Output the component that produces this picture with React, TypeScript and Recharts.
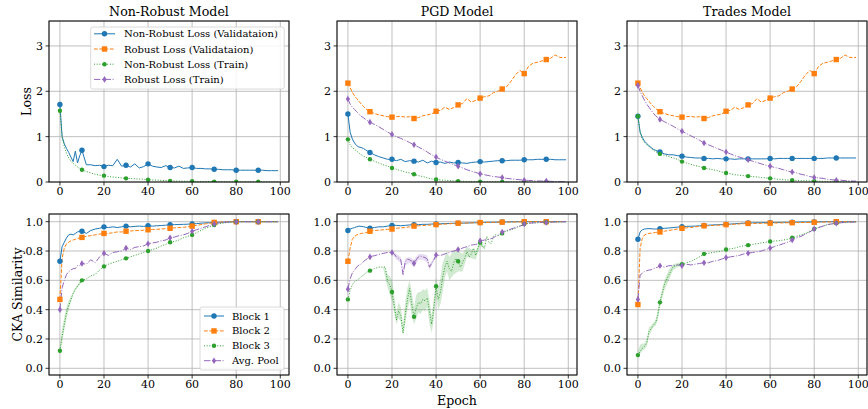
import React from 'react';
import { ComposedChart, Line, Area, XAxis, YAxis, CartesianGrid } from 'recharts';

// ---------- categories / labels ----------
const TITLES = ['Non-Robust Model', 'PGD Model', 'Trades Model'];
const LOSS_LABELS = ['Non-Robust Loss (Validataion)', 'Robust Loss (Validataion)', 'Non-Robust Loss (Train)', 'Robust Loss (Train)'];
const CKA_LABELS = ['Block 1', 'Block 2', 'Block 3', 'Avg. Pool'];
const X_TICKS = [0, 20, 40, 60, 80, 100];
const LOSS_TICKS = [0, 1, 2, 3];
const CKA_TICKS = [0, 0.2, 0.4, 0.6, 0.8, 1.0];

// ---------- epochs ----------
const EPOCHS = [0, 1, 2, 3, 4, 5, 6, 7, 8, 9, 10,
  12, 14, 16, 18, 20, 22, 24, 26, 28, 30,
  32, 34, 36, 38, 40, 42, 44, 46, 48, 50,
  52, 54, 56, 58, 60, 62, 64, 66, 68, 70,
  72, 74, 76, 78, 80, 82, 84, 86, 88, 90,
  92, 94, 96, 98, 99];
const EPOCHS_FINE = [0, 1, 2, 3, 4, 5, 6, 7, 8, 9, 10, 11, 12, 13, 14, 15, 16, 17, 18, 19,
  20, 21, 22, 23, 24, 25, 26, 27, 28, 29, 30, 31, 32, 33, 34, 35, 36, 37, 38, 39,
  40, 41, 42, 43, 44, 45, 46, 47, 48, 49, 50, 51, 52, 53, 54, 55, 56, 57, 58, 59,
  60, 61, 62, 63, 64, 65, 66, 67, 68, 69, 70, 71, 72, 73, 74, 75, 76, 77, 78, 79,
  80, 81, 82, 83, 84, 85, 86, 87, 88, 89, 90, 91, 92, 93, 94, 95, 96, 97, 98, 99];

// ---------- Non-Robust model: loss ----------
const NR_LOSS_NRVAL = [1.71, 1.0, 0.84, 0.74, 0.65, 0.55, 0.45, 0.68, 0.42, 0.58, 0.70,
  0.38, 0.38, 0.36, 0.37, 0.34, 0.37, 0.36, 0.50, 0.35, 0.37,
  0.33, 0.40, 0.31, 0.34, 0.40, 0.35, 0.33, 0.32, 0.36, 0.32,
  0.31, 0.35, 0.30, 0.31, 0.32, 0.30, 0.30, 0.29, 0.29, 0.28,
  0.28, 0.27, 0.27, 0.27, 0.26, 0.26, 0.26, 0.26, 0.26, 0.26,
  0.26, 0.25, 0.25, 0.25, 0.25];
const NR_LOSS_NRTRAIN = [1.57, 1.0, 0.78, 0.63, 0.53, 0.46, 0.41, 0.37, 0.33, 0.30, 0.27,
  0.23, 0.20, 0.17, 0.15, 0.14, 0.12, 0.11, 0.10, 0.09, 0.08,
  0.075, 0.07, 0.065, 0.06, 0.05, 0.045, 0.04, 0.035, 0.03, 0.025,
  0.022, 0.02, 0.018, 0.016, 0.015, 0.013, 0.012, 0.011, 0.01, 0.009,
  0.008, 0.007, 0.007, 0.006, 0.006, 0.005, 0.005, 0.005, 0.004, 0.004,
  0.004, 0.003, 0.003, 0.003, 0.003];

// ---------- PGD model: loss ----------
const ADV_LOSS_RVAL = [2.18, 2.08, 1.98, 1.90, 1.84, 1.78, 1.72, 1.67, 1.62, 1.58, 1.55,
  1.51, 1.48, 1.46, 1.44, 1.43, 1.44, 1.45, 1.43, 1.44, 1.40,
  1.42, 1.46, 1.48, 1.50, 1.56, 1.58, 1.65, 1.60, 1.64, 1.70,
  1.73, 1.84, 1.76, 1.80, 1.85, 1.88, 1.90, 1.97, 2.00, 2.05,
  2.10, 2.22, 2.36, 2.46, 2.39, 2.55, 2.62, 2.64, 2.67, 2.70,
  2.73, 2.80, 2.75, 2.74, 2.75];
const PGD_LOSS_NRVAL = [1.50, 1.10, 0.95, 0.86, 0.80, 0.77, 0.76, 0.74, 0.71, 0.68, 0.65,
  0.60, 0.56, 0.53, 0.50, 0.50, 0.47, 0.50, 0.45, 0.47, 0.46,
  0.44, 0.48, 0.42, 0.46, 0.43, 0.44, 0.41, 0.44, 0.42, 0.43,
  0.42, 0.41, 0.43, 0.44, 0.45, 0.44, 0.45, 0.46, 0.47, 0.47,
  0.47, 0.48, 0.48, 0.48, 0.49, 0.49, 0.49, 0.50, 0.50, 0.50,
  0.50, 0.49, 0.49, 0.49, 0.49];
const PGD_LOSS_NRTRAIN = [0.94, 0.82, 0.76, 0.72, 0.68, 0.64, 0.60, 0.57, 0.55, 0.52, 0.50,
  0.46, 0.42, 0.38, 0.35, 0.31, 0.28, 0.25, 0.22, 0.20, 0.17,
  0.14, 0.12, 0.09, 0.07, 0.055, 0.045, 0.04, 0.03, 0.025, 0.02,
  0.016, 0.013, 0.011, 0.009, 0.008, 0.007, 0.006, 0.005, 0.005, 0.004,
  0.004, 0.003, 0.003, 0.003, 0.003, 0.002, 0.002, 0.002, 0.002, 0.002,
  0.002, 0.002, 0.002, 0.002, 0.002];
const PGD_LOSS_RTRAIN = [1.83, 1.72, 1.65, 1.60, 1.55, 1.50, 1.45, 1.42, 1.38, 1.35, 1.32,
  1.27, 1.22, 1.16, 1.10, 1.05, 1.00, 0.96, 0.92, 0.87, 0.82,
  0.77, 0.72, 0.66, 0.60, 0.55, 0.50, 0.46, 0.42, 0.38, 0.35,
  0.31, 0.27, 0.24, 0.21, 0.18, 0.16, 0.14, 0.12, 0.11, 0.10,
  0.08, 0.07, 0.06, 0.05, 0.04, 0.035, 0.03, 0.025, 0.02, 0.02,
  0.015, 0.01, 0.008, 0.006, 0.005];

// ---------- Trades model: loss ----------
const TR_LOSS_NRVAL = [1.45, 1.10, 0.98, 0.90, 0.85, 0.80, 0.76, 0.72, 0.70, 0.68, 0.66,
  0.62, 0.60, 0.60, 0.58, 0.57, 0.55, 0.54, 0.53, 0.53, 0.52,
  0.52, 0.51, 0.52, 0.51, 0.51, 0.51, 0.50, 0.51, 0.51, 0.51,
  0.51, 0.51, 0.51, 0.51, 0.52, 0.51, 0.52, 0.52, 0.52, 0.52,
  0.52, 0.52, 0.52, 0.52, 0.52, 0.52, 0.52, 0.53, 0.53, 0.53,
  0.53, 0.53, 0.53, 0.53, 0.53];
const TR_LOSS_NRTRAIN = [1.45, 1.10, 0.95, 0.87, 0.82, 0.78, 0.74, 0.70, 0.67, 0.65, 0.62,
  0.59, 0.56, 0.53, 0.50, 0.45, 0.42, 0.39, 0.36, 0.34, 0.31,
  0.29, 0.27, 0.25, 0.22, 0.20, 0.18, 0.16, 0.15, 0.14, 0.13,
  0.12, 0.11, 0.10, 0.09, 0.08, 0.07, 0.06, 0.05, 0.045, 0.04,
  0.035, 0.03, 0.028, 0.025, 0.02, 0.018, 0.016, 0.014, 0.012, 0.01,
  0.009, 0.008, 0.007, 0.006, 0.005];
const TR_LOSS_RTRAIN = [2.13, 2.00, 1.90, 1.80, 1.72, 1.65, 1.58, 1.52, 1.46, 1.42, 1.38,
  1.33, 1.28, 1.23, 1.17, 1.12, 1.07, 1.02, 0.97, 0.92, 0.86,
  0.82, 0.78, 0.74, 0.70, 0.66, 0.62, 0.58, 0.55, 0.52, 0.49,
  0.46, 0.43, 0.40, 0.37, 0.35, 0.32, 0.30, 0.27, 0.24, 0.22,
  0.20, 0.17, 0.15, 0.12, 0.10, 0.09, 0.08, 0.06, 0.05, 0.04,
  0.04, 0.03, 0.025, 0.02, 0.02];

// ---------- Non-Robust model: CKA ----------
const NR_CKA_B1 = [0.73, 0.83, 0.86, 0.89, 0.91, 0.915, 0.91, 0.92, 0.93, 0.935, 0.935,
  0.92, 0.94, 0.95, 0.955, 0.965, 0.96, 0.965, 0.96, 0.965, 0.97,
  0.965, 0.968, 0.97, 0.968, 0.972, 0.97, 0.972, 0.974, 0.976, 0.98,
  0.98, 0.981, 0.982, 0.983, 0.985, 0.987, 0.99, 0.992, 0.993, 0.995,
  0.996, 0.997, 0.998, 0.999, 1.0, 1.0, 1.0, 1.0, 1.0, 1.0,
  1.0, 1.0, 1.0, 1.0, 1.0];
const NR_CKA_B2 = [0.47, 0.75, 0.82, 0.85, 0.86, 0.87, 0.875, 0.88, 0.885, 0.89, 0.893,
  0.90, 0.905, 0.91, 0.915, 0.92, 0.92, 0.925, 0.93, 0.93, 0.935,
  0.937, 0.939, 0.94, 0.942, 0.945, 0.947, 0.948, 0.95, 0.952, 0.955,
  0.958, 0.96, 0.962, 0.965, 0.97, 0.975, 0.98, 0.985, 0.99, 0.995,
  0.997, 0.998, 0.999, 1.0, 1.0, 1.0, 1.0, 1.0, 1.0, 1.0,
  1.0, 1.0, 1.0, 1.0, 1.0];
const NR_CKA_B3 = [0.12, 0.22, 0.30, 0.38, 0.43, 0.47, 0.51, 0.54, 0.56, 0.58, 0.60,
  0.61, 0.63, 0.64, 0.67, 0.695, 0.71, 0.72, 0.73, 0.74, 0.75,
  0.76, 0.77, 0.78, 0.79, 0.80, 0.81, 0.82, 0.835, 0.845, 0.86,
  0.865, 0.875, 0.89, 0.90, 0.91, 0.925, 0.94, 0.955, 0.965, 0.977,
  0.985, 0.99, 0.995, 0.998, 1.0, 1.0, 1.0, 1.0, 1.0, 1.0,
  1.0, 1.0, 1.0, 1.0, 1.0];
const NR_CKA_POOL = [0.40, 0.55, 0.60, 0.64, 0.66, 0.67, 0.68, 0.68, 0.70, 0.70, 0.715,
  0.71, 0.74, 0.72, 0.76, 0.785, 0.77, 0.79, 0.795, 0.80, 0.82,
  0.81, 0.825, 0.83, 0.835, 0.85, 0.855, 0.86, 0.87, 0.875, 0.89,
  0.895, 0.905, 0.91, 0.92, 0.935, 0.945, 0.955, 0.965, 0.975, 0.985,
  0.99, 0.995, 0.998, 1.0, 1.0, 1.0, 1.0, 1.0, 1.0, 1.0,
  1.0, 1.0, 1.0, 1.0, 1.0];
const NR_B3_BAND_EPOCHS = [0, 1, 2, 3, 4, 5, 6, 7, 8, 9, 10];
const NR_B3_BAND_LO = [0.09, 0.18, 0.26, 0.34, 0.40, 0.45, 0.50, 0.53, 0.55, 0.57, 0.59];
const NR_B3_BAND_HI = [0.15, 0.27, 0.35, 0.42, 0.46, 0.49, 0.52, 0.55, 0.57, 0.59, 0.61];

// ---------- PGD model: CKA ----------
const PGD_CKA_B1 = [0.94, 0.95, 0.955, 0.96, 0.965, 0.97, 0.968, 0.966, 0.962, 0.958, 0.955,
  0.96, 0.965, 0.965, 0.97, 0.975, 0.975, 0.972, 0.975, 0.978, 0.98,
  0.98, 0.982, 0.982, 0.984, 0.985, 0.986, 0.987, 0.988, 0.989, 0.99,
  0.99, 0.991, 0.992, 0.993, 0.994, 0.995, 0.996, 0.996, 0.997, 0.998,
  0.998, 0.999, 0.999, 1.0, 1.0, 1.0, 1.0, 1.0, 1.0, 1.0,
  1.0, 1.0, 1.0, 1.0, 1.0];
const PGD_CKA_B2 = [0.73, 0.82, 0.88, 0.90, 0.91, 0.915, 0.92, 0.922, 0.925, 0.93, 0.935,
  0.94, 0.942, 0.945, 0.948, 0.95, 0.955, 0.958, 0.96, 0.965, 0.97,
  0.972, 0.974, 0.976, 0.978, 0.98, 0.982, 0.984, 0.986, 0.988, 0.99,
  0.99, 0.991, 0.992, 0.993, 0.994, 0.995, 0.995, 0.996, 0.996, 0.997,
  0.997, 0.998, 0.998, 0.999, 1.0, 1.0, 1.0, 1.0, 1.0, 1.0,
  1.0, 1.0, 1.0, 1.0, 1.0];
const PGD_CKA_B3 = [0.47, 0.53, 0.57, 0.59, 0.60, 0.61, 0.625, 0.635, 0.648, 0.66,
  0.666, 0.67, 0.68, 0.685, 0.69, 0.69, 0.69, 0.69, 0.59, 0.57,
  0.52, 0.43, 0.33, 0.39, 0.36, 0.24, 0.36, 0.47, 0.545, 0.43,
  0.352, 0.41, 0.45, 0.44, 0.47, 0.46, 0.48, 0.39, 0.30, 0.41,
  0.56, 0.47, 0.52, 0.62, 0.69, 0.73, 0.68, 0.66, 0.72, 0.75,
  0.73, 0.69, 0.72, 0.75, 0.795, 0.76, 0.78, 0.82, 0.77, 0.82,
  0.857, 0.83, 0.82, 0.90, 0.86, 0.85, 0.90, 0.91, 0.905, 0.91,
  0.92, 0.93, 0.935, 0.94, 0.945, 0.95, 0.955, 0.965, 0.97, 0.975,
  0.984, 0.986, 0.988, 0.99, 0.991, 0.992, 0.993, 0.994, 0.995, 0.995,
  0.996, 0.997, 0.997, 0.998, 0.998, 0.999, 0.999, 1.0, 1.0, 1.0];
const PGD_CKA_POOL = [0.54, 0.61, 0.65, 0.67, 0.69, 0.705, 0.71, 0.727, 0.74, 0.75,
  0.76, 0.765, 0.768, 0.772, 0.777, 0.78, 0.784, 0.787, 0.79, 0.79,
  0.79, 0.78, 0.76, 0.75, 0.74, 0.64, 0.727, 0.745, 0.74, 0.73,
  0.716, 0.74, 0.76, 0.765, 0.76, 0.755, 0.745, 0.69, 0.716, 0.74,
  0.773, 0.77, 0.77, 0.775, 0.78, 0.785, 0.79, 0.795, 0.80, 0.805,
  0.81, 0.815, 0.82, 0.825, 0.83, 0.835, 0.84, 0.843, 0.845, 0.85,
  0.87, 0.872, 0.875, 0.877, 0.88, 0.885, 0.89, 0.90, 0.905, 0.915,
  0.93, 0.935, 0.94, 0.945, 0.95, 0.955, 0.96, 0.965, 0.97, 0.975,
  0.985, 0.987, 0.99, 0.991, 0.992, 0.993, 0.994, 0.995, 0.995, 0.996,
  0.995, 0.996, 0.997, 0.998, 0.998, 0.999, 0.999, 1.0, 1.0, 1.0];
const PGD_B3_BAND_EPOCHS = [16, 18, 19, 20, 21, 22, 23, 24, 25, 26, 27, 28, 29, 30, 31, 32, 33, 34, 35, 36, 37, 38, 39,
  40, 41, 42, 43, 44, 45, 46, 48, 50, 52, 54, 56, 58, 60, 62];
const PGD_B3_BAND_LO = [0.68, 0.55, 0.50, 0.46, 0.38, 0.30, 0.34, 0.32, 0.22, 0.30, 0.40, 0.46, 0.36, 0.30, 0.34, 0.38, 0.37, 0.40, 0.39, 0.42, 0.30, 0.24, 0.34,
  0.50, 0.40, 0.44, 0.52, 0.62, 0.66, 0.60, 0.64, 0.66, 0.66, 0.76, 0.75, 0.74, 0.84, 0.81];
const PGD_B3_BAND_HI = [0.70, 0.64, 0.63, 0.60, 0.50, 0.38, 0.45, 0.42, 0.30, 0.45, 0.55, 0.60, 0.52, 0.42, 0.50, 0.52, 0.52, 0.54, 0.53, 0.55, 0.46, 0.36, 0.48,
  0.62, 0.56, 0.62, 0.72, 0.76, 0.80, 0.76, 0.80, 0.80, 0.78, 0.83, 0.81, 0.80, 0.87, 0.83];
const PGD_POOL_BAND_EPOCHS = [20, 22, 24, 25, 26, 28, 30, 32, 34, 36, 37, 38, 40];
const PGD_POOL_BAND_LO = [0.78, 0.74, 0.72, 0.62, 0.70, 0.72, 0.69, 0.74, 0.74, 0.72, 0.67, 0.70, 0.76];
const PGD_POOL_BAND_HI = [0.80, 0.78, 0.76, 0.66, 0.75, 0.76, 0.74, 0.78, 0.78, 0.77, 0.71, 0.73, 0.78];

// ---------- Trades model: CKA ----------
const TR_CKA_B1 = [0.88, 0.93, 0.945, 0.95, 0.952, 0.953, 0.952, 0.95, 0.95, 0.95, 0.952,
  0.955, 0.957, 0.96, 0.963, 0.966, 0.968, 0.969, 0.97, 0.972, 0.974,
  0.976, 0.978, 0.979, 0.98, 0.982, 0.984, 0.986, 0.988, 0.99, 0.992,
  0.992, 0.993, 0.993, 0.994, 0.994, 0.995, 0.995, 0.996, 0.996, 0.997,
  0.997, 0.998, 0.998, 0.998, 0.999, 0.999, 0.999, 1.0, 1.0, 1.0,
  1.0, 1.0, 1.0, 1.0, 1.0];
const TR_CKA_B2 = [0.435, 0.82, 0.886, 0.91, 0.916, 0.92, 0.922, 0.924, 0.926, 0.928, 0.93,
  0.935, 0.94, 0.945, 0.95, 0.955, 0.958, 0.96, 0.965, 0.968, 0.972,
  0.973, 0.974, 0.976, 0.977, 0.98, 0.982, 0.983, 0.985, 0.986, 0.988,
  0.988, 0.989, 0.989, 0.99, 0.99, 0.991, 0.992, 0.992, 0.993, 0.993,
  0.994, 0.994, 0.995, 0.995, 0.996, 0.997, 0.998, 0.998, 0.999, 1.0,
  1.0, 1.0, 1.0, 1.0, 1.0];
const TR_CKA_B3 = [0.09, 0.115, 0.136, 0.15, 0.17, 0.25, 0.27, 0.295, 0.31, 0.36, 0.45,
  0.57, 0.636, 0.693, 0.705, 0.71, 0.72, 0.73, 0.745, 0.76, 0.78,
  0.785, 0.79, 0.795, 0.80, 0.81, 0.815, 0.82, 0.83, 0.835, 0.84,
  0.845, 0.85, 0.855, 0.86, 0.865, 0.868, 0.87, 0.875, 0.88, 0.89,
  0.90, 0.91, 0.92, 0.935, 0.95, 0.96, 0.97, 0.98, 0.985, 0.99,
  0.993, 0.995, 0.997, 0.998, 0.999];
const TR_CKA_POOL = [0.47, 0.636, 0.648, 0.66, 0.666, 0.67, 0.672, 0.68, 0.685, 0.69, 0.70,
  0.69, 0.70, 0.70, 0.705, 0.70, 0.71, 0.705, 0.71, 0.715, 0.72,
  0.72, 0.73, 0.735, 0.745, 0.755, 0.76, 0.765, 0.77, 0.78, 0.785,
  0.79, 0.795, 0.80, 0.81, 0.82, 0.83, 0.84, 0.85, 0.86, 0.875,
  0.89, 0.90, 0.915, 0.93, 0.95, 0.96, 0.97, 0.98, 0.985, 0.99,
  0.993, 0.995, 0.997, 0.998, 1.0];
const TR_B3_BAND_EPOCHS = [0, 1, 2, 3, 4, 5, 6, 7, 8, 9, 10, 12, 14, 16, 18, 20];
const TR_B3_BAND_LO = [0.07, 0.10, 0.12, 0.13, 0.15, 0.22, 0.25, 0.28, 0.29, 0.33, 0.42, 0.53, 0.60, 0.67, 0.69, 0.70];
const TR_B3_BAND_HI = [0.12, 0.16, 0.17, 0.17, 0.20, 0.28, 0.29, 0.31, 0.33, 0.40, 0.48, 0.60, 0.67, 0.71, 0.72, 0.72];

// ---------- styles ----------
const COLORS = ['#1f77b4', '#ff7f0e', '#2ca02c', '#9467bd'];
const DASHES = [undefined, '3.7 1.6', '1 1.65', '6.4 1.6 1 1.6'];
const MARKERS = ['circle', 'square', 'small', 'diamond'];
const FONT = 'DejaVu Serif';
const X_DOMAIN: [number, number] = [-4.95, 103.95];
const LOSS_DOMAIN: [number, number] = [0, 3.55];
const CKA_DOMAIN: [number, number] = [-0.0457, 1.0525];

const COL_LEFT = [49, 337, 627];
const PLOT_W = 240;
const ROW_TOP = [21, 214];
const PLOT_H = 161;

type Series = { key: string; epochs: number[]; values: number[]; idx: number };
type Band = { key: string; epochs: number[]; lo: number[]; hi: number[]; idx: number };

function buildRows(series: Series[], bands: Band[]) {
  const set = new Set<number>();
  series.forEach((s) => s.epochs.forEach((e) => set.add(e)));
  bands.forEach((b) => b.epochs.forEach((e) => set.add(e)));
  const eps = Array.from(set).sort((a, b) => a - b);
  const pos = new Map<number, number>();
  eps.forEach((e, i) => pos.set(e, i));
  const rows: any[] = eps.map((e) => ({ epoch: e }));
  series.forEach((s) => s.epochs.forEach((e, i) => { rows[pos.get(e)!][s.key] = s.values[i]; }));
  bands.forEach((b) => b.epochs.forEach((e, i) => { rows[pos.get(e)!][b.key] = [b.lo[i], b.hi[i]]; }));
  return rows;
}

function Marker({ kind, cx, cy, color }: { kind: string; cx: number; cy: number; color: string }) {
  if (kind === 'circle') return <circle cx={cx} cy={cy} r={2.7} fill={color} />;
  if (kind === 'square') return <rect x={cx - 2.7} y={cy - 2.7} width={5.4} height={5.4} fill={color} />;
  if (kind === 'small') return <circle cx={cx} cy={cy} r={2.2} fill={color} />;
  return <polygon points={`${cx},${cy - 3.3} ${cx + 2.1},${cy} ${cx},${cy + 3.3} ${cx - 2.1},${cy}`} fill={color} />;
}

const makeDot = (s: Series) => (props: any) => {
  const { cx, cy, payload, index } = props;
  const k = `${s.key}-d-${index}`;
  if (!payload || payload[s.key] == null || cx == null || cy == null || payload.epoch % 10 !== 0 || payload.epoch > 90) {
    return <g key={k} />;
  }
  return <g key={k}><Marker kind={MARKERS[s.idx]} cx={cx} cy={cy} color={COLORS[s.idx]} /></g>;
};

function Panel({ col, row, series, bands }: { col: number; row: number; series: Series[]; bands: Band[] }) {
  const MT = 4, MR = 6, YW = 40, XH = 22;
  const left = COL_LEFT[col];
  const top = ROW_TOP[row];
  const rows = buildRows(series, bands);
  const isLoss = row === 0;
  return (
    <div style={{ position: 'absolute', left: left - YW, top: top - MT }}>
      <ComposedChart width={YW + PLOT_W + MR} height={MT + PLOT_H + XH} data={rows}
        margin={{ top: MT, right: MR, left: 0, bottom: 0 }}>
        <CartesianGrid stroke="#b0b0b0" strokeWidth={0.8} />
        <XAxis dataKey="epoch" type="number" domain={X_DOMAIN} ticks={X_TICKS} allowDataOverflow
          interval={0} height={XH} axisLine={false} tickSize={3.5} tickMargin={2}
          tickLine={{ stroke: '#000', strokeWidth: 0.8 }}
          tick={{ fill: '#000', fontSize: 11, fontFamily: FONT }} />
        <YAxis type="number" domain={isLoss ? LOSS_DOMAIN : CKA_DOMAIN} ticks={isLoss ? LOSS_TICKS : CKA_TICKS}
          allowDataOverflow interval={0} width={YW} axisLine={false} tickSize={3.5} tickMargin={2.5}
          tickFormatter={(v: number) => (isLoss ? String(v) : v.toFixed(1))}
          tickLine={{ stroke: '#000', strokeWidth: 0.8 }}
          tick={{ fill: '#000', fontSize: 11, fontFamily: FONT }} />
        {bands.map((b) => (
          <Area key={b.key} dataKey={b.key} type="linear" stroke="none" fill={COLORS[b.idx]} fillOpacity={0.22}
            connectNulls isAnimationActive={false} dot={false} activeDot={false} />
        ))}
        {series.map((s) => (
          <Line key={s.key} dataKey={s.key} type="linear" stroke={COLORS[s.idx]} strokeWidth={1}
            strokeDasharray={DASHES[s.idx]} connectNulls dot={makeDot(s)} activeDot={false}
            isAnimationActive={false} />
        ))}
      </ComposedChart>
    </div>
  );
}

function LegendBox({ x, y, w, h, row0, dy, hx0, hx1, tx, labels }: any) {
  return (
    <g>
      <rect x={x} y={y} width={w} height={h} rx={2} fill="#fff" fillOpacity={0.85} stroke="#d0d0d0" strokeWidth={0.8} />
      {labels.map((lab: string, i: number) => {
        const cy = row0 + i * dy;
        return (
          <g key={lab}>
            <line x1={hx0} x2={hx1} y1={cy} y2={cy} stroke={COLORS[i]} strokeWidth={1} strokeDasharray={DASHES[i]} />
            <Marker kind={MARKERS[i]} cx={(hx0 + hx1) / 2} cy={cy} color={COLORS[i]} />
            <text x={tx} y={cy} dominantBaseline="central" fontSize={10} fontFamily={FONT} fill="#000">{lab}</text>
          </g>
        );
      })}
    </g>
  );
}

export default function App() {
  const lossPanels: [Series[], Band[]][] = [
    [[
      { key: 'nrval', epochs: EPOCHS, values: NR_LOSS_NRVAL, idx: 0 },
      { key: 'nrtrain', epochs: EPOCHS, values: NR_LOSS_NRTRAIN, idx: 2 },
    ], []],
    [[
      { key: 'nrval', epochs: EPOCHS, values: PGD_LOSS_NRVAL, idx: 0 },
      { key: 'rval', epochs: EPOCHS, values: ADV_LOSS_RVAL, idx: 1 },
      { key: 'nrtrain', epochs: EPOCHS, values: PGD_LOSS_NRTRAIN, idx: 2 },
      { key: 'rtrain', epochs: EPOCHS, values: PGD_LOSS_RTRAIN, idx: 3 },
    ], []],
    [[
      { key: 'nrval', epochs: EPOCHS, values: TR_LOSS_NRVAL, idx: 0 },
      { key: 'rval', epochs: EPOCHS, values: ADV_LOSS_RVAL, idx: 1 },
      { key: 'nrtrain', epochs: EPOCHS, values: TR_LOSS_NRTRAIN, idx: 2 },
      { key: 'rtrain', epochs: EPOCHS, values: TR_LOSS_RTRAIN, idx: 3 },
    ], []],
  ];
  const ckaPanels: [Series[], Band[]][] = [
    [[
      { key: 'b1', epochs: EPOCHS, values: NR_CKA_B1, idx: 0 },
      { key: 'b2', epochs: EPOCHS, values: NR_CKA_B2, idx: 1 },
      { key: 'b3', epochs: EPOCHS, values: NR_CKA_B3, idx: 2 },
      { key: 'pool', epochs: EPOCHS, values: NR_CKA_POOL, idx: 3 },
    ], [{ key: 'b3band', epochs: NR_B3_BAND_EPOCHS, lo: NR_B3_BAND_LO, hi: NR_B3_BAND_HI, idx: 2 }]],
    [[
      { key: 'b1', epochs: EPOCHS, values: PGD_CKA_B1, idx: 0 },
      { key: 'b2', epochs: EPOCHS, values: PGD_CKA_B2, idx: 1 },
      { key: 'b3', epochs: EPOCHS_FINE, values: PGD_CKA_B3, idx: 2 },
      { key: 'pool', epochs: EPOCHS_FINE, values: PGD_CKA_POOL, idx: 3 },
    ], [
      { key: 'b3band', epochs: PGD_B3_BAND_EPOCHS, lo: PGD_B3_BAND_LO, hi: PGD_B3_BAND_HI, idx: 2 },
      { key: 'poolband', epochs: PGD_POOL_BAND_EPOCHS, lo: PGD_POOL_BAND_LO, hi: PGD_POOL_BAND_HI, idx: 3 },
    ]],
    [[
      { key: 'b1', epochs: EPOCHS, values: TR_CKA_B1, idx: 0 },
      { key: 'b2', epochs: EPOCHS, values: TR_CKA_B2, idx: 1 },
      { key: 'b3', epochs: EPOCHS, values: TR_CKA_B3, idx: 2 },
      { key: 'pool', epochs: EPOCHS, values: TR_CKA_POOL, idx: 3 },
    ], [{ key: 'b3band', epochs: TR_B3_BAND_EPOCHS, lo: TR_B3_BAND_LO, hi: TR_B3_BAND_HI, idx: 2 }]],
  ];

  return (
    <div style={{ position: 'absolute', left: 0, top: 0, width: 868, height: 409, background: '#fff', fontFamily: FONT }}>
      {lossPanels.map(([s, b], c) => <Panel key={`l${c}`} col={c} row={0} series={s} bands={b} />)}
      {ckaPanels.map(([s, b], c) => <Panel key={`c${c}`} col={c} row={1} series={s} bands={b} />)}
      <svg width={868} height={409} style={{ position: 'absolute', left: 0, top: 0, pointerEvents: 'none' }}>
        {[0, 1].map((r) => COL_LEFT.map((l, c) => (
          <rect key={`f${r}${c}`} x={l} y={ROW_TOP[r]} width={PLOT_W} height={PLOT_H} fill="none" stroke="#000" strokeWidth={1} />
        )))}
        {TITLES.map((t, c) => (
          <text key={t} x={COL_LEFT[c] + PLOT_W / 2} y={11} textAnchor="middle" dominantBaseline="central"
            fontSize={12.6} fontFamily={FONT} fill="#000">{t}</text>
        ))}
        <text x={0} y={0} transform={`translate(26.7, ${ROW_TOP[0] + PLOT_H / 2}) rotate(-90)`} textAnchor="middle"
          dominantBaseline="central" fontSize={12.6} fontFamily={FONT} fill="#000">Loss</text>
        <text x={0} y={0} transform={`translate(17.5, ${ROW_TOP[1] + PLOT_H / 2}) rotate(-90)`} textAnchor="middle"
          dominantBaseline="central" fontSize={12.6} fontFamily={FONT} fill="#000">CKA Similarity</text>
        <text x={COL_LEFT[1] + PLOT_W / 2} y={400} textAnchor="middle" dominantBaseline="central"
          fontSize={12.6} fontFamily={FONT} fill="#000">Epoch</text>
        <LegendBox x={90.7} y={27} w={193.5} h={62} row0={33.8} dy={15.2} hx0={94} hx1={115} tx={124} labels={LOSS_LABELS} />
        <LegendBox x={200} y={307} w={84} h={63} row0={316} dy={14.9} hx0={204} hx1={224} tx={232} labels={CKA_LABELS} />
      </svg>
    </div>
  );
}
